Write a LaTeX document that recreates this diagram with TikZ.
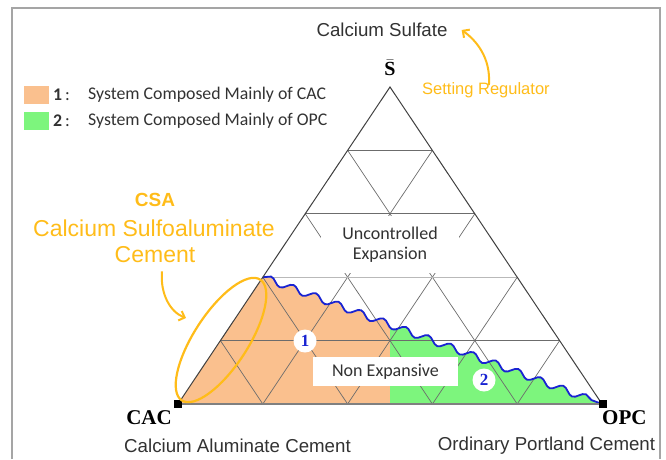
\documentclass[tikz,border=0pt]{standalone}
\usepackage{fontspec}
\setmainfont{Liberation Sans}
\newfontfamily\calibri{Carlito}
\newfontfamily\timesrm{Liberation Serif}
\usetikzlibrary{calc,arrows.meta,shapes.geometric,decorations.pathmorphing}

\definecolor{cacfill}{RGB}{250,192,142}
\definecolor{opcfill}{RGB}{125,245,125}
\definecolor{amber}{RGB}{255,188,25}
\definecolor{wavecol}{RGB}{25,35,210}
\definecolor{framegray}{RGB}{165,165,165}
\definecolor{txt}{RGB}{50,50,50}

\begin{document}
\begin{tikzpicture}[x=1pt,y=-1pt,>={Straight Barb[length=5pt,width=10pt]},
    gridline/.style={gray!85!black,line width=0.7pt},
    wavy/.style={decoration={snake,segment length=24pt,amplitude=3.5pt}},
    txtlbl/.style={text=txt,inner sep=0,font=\fontsize{18.7}{21}\selectfont},
    corner/.style={inner sep=0,font=\timesrm\bfseries\fontsize{21}{21}\selectfont},
    hint/.style={text=amber,inner sep=0},
    box/.style={fill=white,inner sep=0,align=center,text=txt,font=\calibri\fontsize{18}{20.5}\selectfont},
    keytext/.style={anchor=west,inner sep=0,text=txt,font=\calibri\fontsize{17.8}{20}\selectfont},
    swatch/.style={minimum width=25,minimum height=18,inner sep=0},
    numdot/.style={circle,fill=white,minimum size=23,inner sep=0,text=wavecol,font=\timesrm\bfseries\fontsize{17}{17}\selectfont},
    vtx/.style={fill=black,minimum size=8.5,inner sep=0}]
  \useasboundingbox (0,0) rectangle (666,459);
  \draw[framegray,line width=1.3pt] (12,459) -- (12,8) -- (660,8) -- (660,459);

  \coordinate (cac) at (178,404);
  \coordinate (opc) at (602,404);
  \coordinate (s) at (390,87);
  \coordinate (w) at ($(cac)!0.4!(s)$);

  % zones 1 and 2 below the wavy limit
  \begin{scope}
    \clip (0,0) rectangle (390,459);
    \fill[cacfill,wavy] (cac) -- (w) decorate {-- (opc)} -- cycle;
  \end{scope}
  \begin{scope}
    \clip (390,0) rectangle (666,459);
    \fill[opcfill,wavy] (cac) -- (w) decorate {-- (opc)} -- cycle;
  \end{scope}

  % ternary grid
  \foreach \f in {0.2,0.4,0.6,0.8} {
    \draw[gridline] ($(cac)!\f!(s)$) -- ($(opc)!\f!(s)$);
    \draw[gridline] ($(cac)!\f!(opc)$) -- ($(s)!\f!(opc)$);
    \draw[gridline] ($(opc)!\f!(cac)$) -- ($(s)!\f!(cac)$);
  }
  \draw[gray!55,line width=1.4pt] ($(cac)!0.4!(s)$) -- ($(opc)!0.4!(s)$);

  \node[box,minimum width=138,minimum height=57] (unc) at (390,244.5) {Uncontrolled\\Expansion};
  \node[box,minimum width=145,minimum height=29] (nonexp) at (385.5,371.5) {Non Expansive};
  \node[numdot] (one) at (305,341) {1};
  \node[numdot] (two) at (484,380) {2};

  \draw[wavecol,line width=1.8pt,wavy,decorate] (w) -- (opc);
  \draw[black!75,line width=1pt] (cac) -- (s) -- (opc);
  \draw[gray,line width=1.6pt] (cac) -- (opc);
  \node[vtx] (cacdot) at (cac) {};
  \node[vtx] (opcdot) at ([xshift=1pt]opc) {};

  % corners
  \node[corner,anchor=east] (caclbl) at (172,418) {CAC};
  \node[corner,anchor=west] (opclbl) at (602,418) {OPC};
  \node[txtlbl] (cacname) at (237.5,446) {Calcium Aluminate Cement};
  \node[txtlbl] (opcname) at (546.5,446) {Ordinary Portland Cement};
  \node[corner,font=\timesrm\bfseries\fontsize{20}{20}\selectfont] (slbl) at (390,68) {$\bar{\mbox{\timesrm\bfseries S}}$};
  \node[txtlbl] (sulfate) at (382,30) {Calcium Sulfate};

  % setting regulator
  \node[hint,anchor=west,font=\fontsize{16.5}{18}\selectfont] (reg) at (422,90) {Setting Regulator};
  \draw[->,amber,line width=2pt] ([xshift=3pt,yshift=-3pt]reg.north) .. controls +(2,-28) and +(14,10) .. ([xshift=14pt]sulfate.east);

  % CSA zone
  \node[draw=amber,line width=2.2pt,ellipse,rotate=57,minimum width=144,minimum height=54,inner sep=0] (ring) at (221,340) {};
  \node[hint,font=\bfseries\fontsize{19}{19}\selectfont] (csa) at (155,200) {CSA};
  \node[hint,font=\fontsize{23}{25}\selectfont] (csaname) at (154,228) {Calcium Sulfoaluminate};
  \node[hint,font=\fontsize{23}{25}\selectfont] (csacem) at (155,255) {Cement};
  \coordinate (csatip) at (186,318);
  \draw[->,amber,line width=2pt] ([xshift=7pt,yshift=-8pt]csacem.south) .. controls +(-2,22) and +(-16,-6) .. (csatip);

  % legend
  \node[swatch,fill=cacfill] (key1) at (36.5,95) {};
  \node[swatch,fill=opcfill] (key2) at (36.5,120.5) {};
  \node[keytext] (num1) at (53,95) {\textbf{1}\,:};
  \node[keytext] (num2) at (53,120.5) {\textbf{2}\,:};
  \node[keytext] (txt1) at (88,95) {System Composed Mainly of CAC};
  \node[keytext] (txt2) at (88,120.5) {System Composed Mainly of OPC};
\end{tikzpicture}
\end{document}
